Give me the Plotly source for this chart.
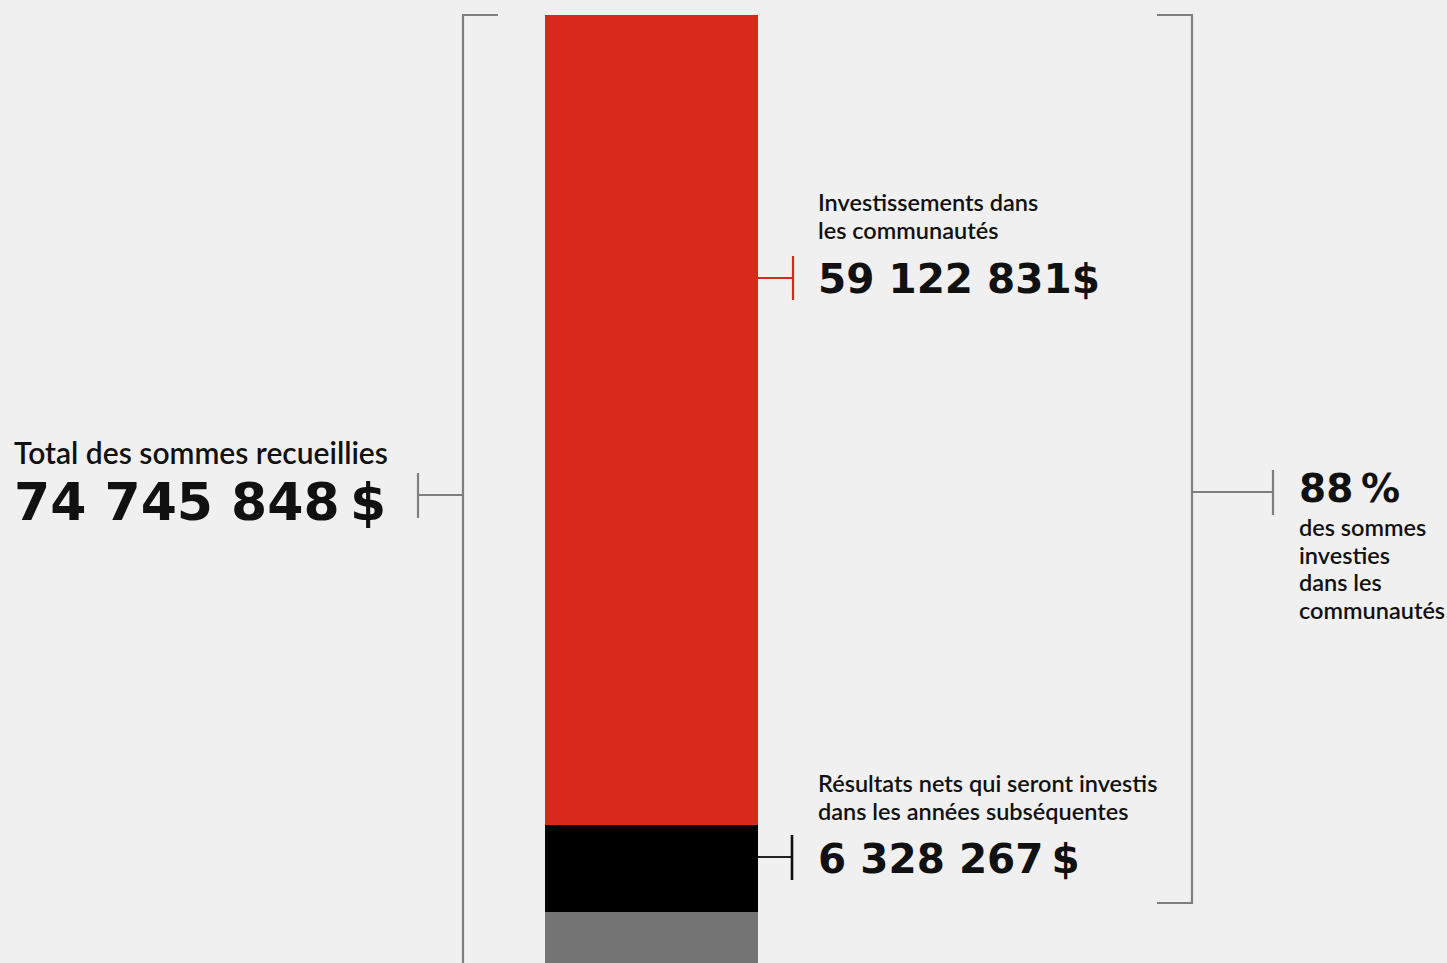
import plotly.graph_objects as go

# ---- data ----
segments = ["Investissements dans les communautés", "Résultats nets qui seront investis dans les années subséquentes", "Autres"]
values = [59122831, 6328267, 9294750]
colors = ["#d9291c", "#000000", "#737473"]
total_title = "Total des sommes recueillies"
total_label = "74 745 848\u2009$"
red_title = ["Investissements dans", "les communautés"]
red_label = "59 122 831$"
black_title = ["Résultats nets qui seront investis", "dans les années subséquentes"]
black_label = "6 328 267\u2009$"
pct_label = "88\u2009%"
pct_lines = ["des sommes", "investies", "dans les", "communautés"]

W, H = 1447, 963
BG = "#f0f0f0"
GREY = "#7f7f7f"
NUM_FONT = "DejaVu Sans"
TXT_FONT = "Lato"

# pixel layout: bar top at 15px, red segment spans 810px
top_px = 15
k = 810 / values[0]          # px per unit
y_top = -top_px / k
y_bot = (H - top_px) / k

# bar horizontal placement: 545..758 px
bar_l, bar_r = 545, 758
bar_w = bar_r - bar_l
x_center = (bar_l + bar_r) / 2

fig = go.Figure()
for name, v, c in zip(segments, values, colors):
    fig.add_trace(go.Bar(x=[x_center], y=[v], width=[bar_w], name=name,
                         marker=dict(color=c, line=dict(width=0)),
                         hoverinfo="skip", showlegend=False))

def px(x):
    return x / W
def py(y):
    return 1 - y / H

shapes = []
def line(x0, y0, x1, y1, color=GREY, w=2.2):
    shapes.append(dict(type="line", xref="paper", yref="paper",
                       x0=px(x0), y0=py(y0), x1=px(x1), y1=py(y1),
                       line=dict(color=color, width=w)))

# left bracket
line(463, 15, 463, 975)
line(462, 15, 498, 15)
line(418, 495, 463, 495)
line(418, 473, 418, 518)
# right bracket
line(1192, 15, 1192, 903)
line(1157, 15, 1193, 15)
line(1157, 903, 1193, 903)
line(1192, 492, 1273, 492)
line(1273, 470, 1273, 515)
# red label tick
line(758, 278, 793, 278, color="#d9291c")
line(793, 256, 793, 300, color="#d9291c")
# black label tick
line(758, 857, 792, 857, color="#222222")
line(792, 835, 792, 880, color="#111111", w=2.6)

annotations = []
def text(x, y, s, size, family, weight=500):
    annotations.append(dict(xref="paper", yref="paper", x=px(x), y=py(y),
                            text=s, showarrow=False, xanchor="left", yanchor="middle",
                            align="left",
                            font=dict(family=family, size=size, color="#111111", weight=weight)))

text(12, 452, total_title, 30, TXT_FONT, 600)
text(12, 502, total_label, 52, NUM_FONT, 700)
for i, s in enumerate(red_title):
    text(816, 202 + i * 28, s, 23.5, TXT_FONT, 600)
text(816, 279, red_label, 40.5, NUM_FONT, 700)
for i, s in enumerate(black_title):
    text(816, 783 + i * 28, s, 23.5, TXT_FONT, 600)
text(816, 859, black_label, 40.5, NUM_FONT, 700)
text(1297, 489, pct_label, 39, NUM_FONT, 700)
for i, s in enumerate(pct_lines):
    text(1297, 527 + i * 27.5, s, 23.5, TXT_FONT, 600)

fig.update_layout(
    width=W, height=H, barmode="stack",
    margin=dict(l=0, r=0, t=0, b=0),
    paper_bgcolor=BG, plot_bgcolor=BG,
    xaxis=dict(range=[0, W], visible=False, fixedrange=True),
    yaxis=dict(range=[y_bot, y_top], visible=False, fixedrange=True),
    shapes=shapes, annotations=annotations,
    bargap=0,
)
fig.write_html("out.html", config={"displayModeBar": False},
               post_script="document.body.style.margin='0';document.body.style.background='#f0f0f0';document.body.style.overflow='hidden';")
